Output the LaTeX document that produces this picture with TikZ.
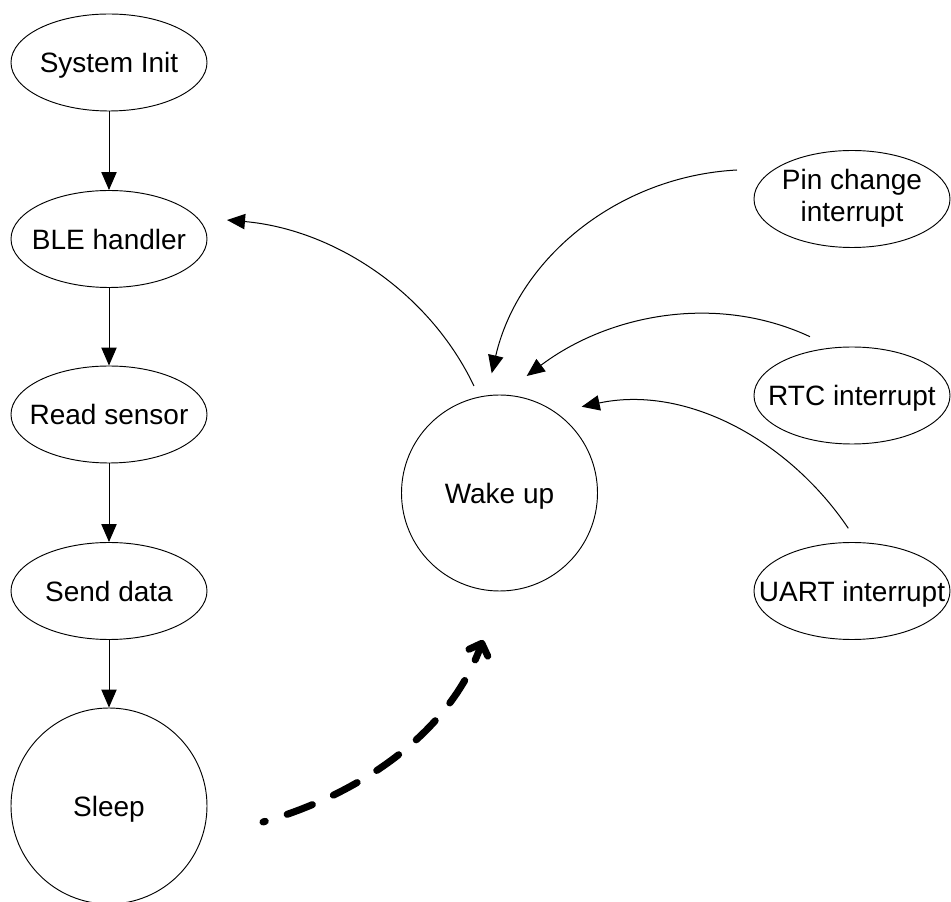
\documentclass[tikz,border=0pt]{standalone}
\usepackage{fontspec}
\setmainfont{Liberation Sans}
\usetikzlibrary{arrows.meta,shapes.geometric,calc}
\newcommand{\lbl}[1]{\makebox[0pt]{\raisebox{0pt}[\height][0pt]{#1}}}
\begin{document}
\begin{tikzpicture}[x=0.75pt,y=0.75pt,
  txt/.style={font=\fontsize{21pt}{24pt}\selectfont, inner sep=0pt},
  stateell/.style={txt, draw, line width=0.7pt, ellipse, minimum width=147pt, minimum height=72.75pt},
  statecirc/.style={txt, draw, line width=0.7pt, circle, minimum size=147pt},
  arr/.style={line width=0.75pt, -{Triangle[length=13.5pt,width=11.5pt]}},
  dasharr/.style={line width=5.25pt, line cap=round, dash pattern=on 20.25pt off 17.25pt, dash phase=18.5pt,
    -{Straight Barb[length=7.5pt,width=15pt,line cap=round,line join=round]}}
]
\useasboundingbox (0,0) rectangle (951,901);

% left column
\node[stateell] (sys)  at (109,838.5) {\lbl{System Init}};
\node[stateell] (ble)  at (109,662)   {\lbl{BLE handler}};
\node[stateell] (read) at (109,486.5) {\lbl{Read sensor}};
\node[stateell] (send) at (109,310)   {\lbl{Send data}};
\node[statecirc] (sleep) at (109,95)  {\lbl{Sleep}};

% centre
\node[statecirc] (wake) at (499.5,408) {\lbl{Wake up}};

% right column
\node[stateell] (pin)  at (852,702)   {\makebox[0pt]{\raisebox{-1.8pt}{\begin{tabular}{@{}c@{}}Pin change\\interrupt\end{tabular}}}};
\node[stateell] (rtc)  at (852,505.5) {\lbl{RTC interrupt}};
\node[stateell] (uart) at (852,310)   {\lbl{UART interrupt}};

% free ends of the curved connectors
\coordinate (wakeOut)  at (474,515);
\coordinate (bleIn)    at (227,681);
\coordinate (pinOut)   at (737,731);
\coordinate (pinIn)    at (491.7,527.7);
\coordinate (rtcOut)   at (810,564.3);
\coordinate (rtcIn)    at (526.7,525);
\coordinate (uartOut)  at (848.3,372.7);
\coordinate (uartIn)   at (581.7,494.3);
\coordinate (sleepOut) at (263,79);
\coordinate (wakeIn)   at (483,261);

% vertical flow
\draw[arr] (sys) -- (ble);
\draw[arr] (ble) -- (read);
\draw[arr] (read) -- (send);
\draw[arr] (send) -- (sleep);

% curved connectors
\draw[arr] (wakeOut) to[out=115.5,in=-5,looseness=0.91] (bleIn);
\draw[arr] (pinOut) to[out=183,in=77,looseness=0.95] (pinIn);
\draw[arr] (rtcOut) to[out=155,in=37,looseness=0.92] (rtcIn);
\draw[arr] (uartOut) to[out=124,in=12,looseness=0.93] (uartIn);

% dashed sleep -> wake
\draw[dasharr] (sleepOut) to[out=16,in=250,looseness=0.9] (wakeIn);
\end{tikzpicture}
\end{document}
